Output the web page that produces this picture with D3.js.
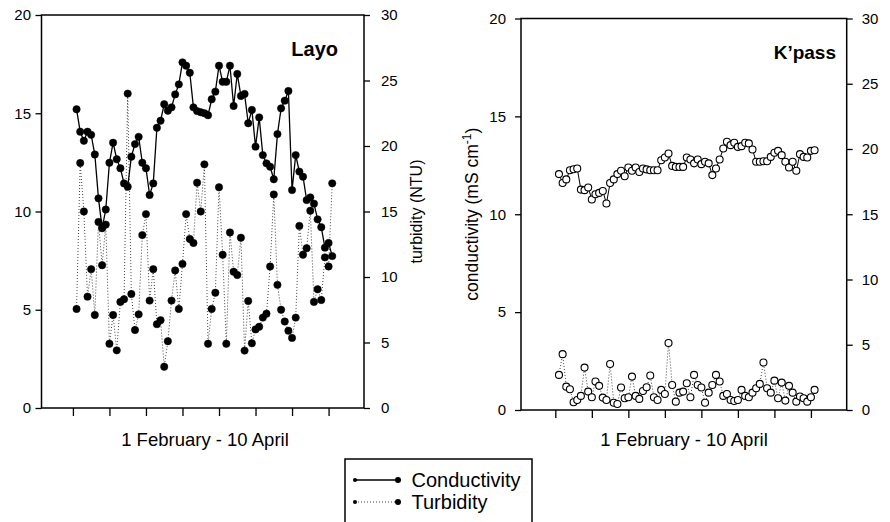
<!DOCTYPE html>
<html>
<head>
<meta charset="utf-8">
<script src="https://cdn.jsdelivr.net/npm/d3@7/dist/d3.min.js"></script>
<style>
  html, body { margin: 0; padding: 0; background: #fff; }
  svg { display: block; font-family: "Liberation Sans", Arial, Helvetica, sans-serif; }
</style>
</head>
<body>
<svg id="chart" width="890" height="522"></svg>
<script>
// ---------------- data ----------------
// day of year of each daily sample (31 Jan .. 11 Apr)
const dayOfYear = d3.range(31, 102);
const tickDays = [30, 40, 50, 60, 70, 80, 90, 100];
const condTicks = [0, 5, 10, 15, 20];
const turbTicks = [0, 5, 10, 15, 20, 25, 30];

const layoConductivity = [15.2, 14.06, 13.6, 14.06, 13.9, 12.9, 10.67, 9.15, 10.1, 12.48,
  13.5, 12.66, 12.2, 11.43, 11.26, 12.79, 13.43, 13.8, 12.48, 12.2,
  10.84, 11.43, 14.26, 14.62, 15.46, 15.13, 15.3, 15.96, 16.47, 17.59,
  17.42, 17.06, 15.3, 15.11, 15.05, 15.0, 14.9, 15.71, 16.1, 17.42,
  16.6, 16.6, 17.42, 15.37, 17.0, 15.88, 15.98, 14.49, 15.17, 13.3,
  14.79, 12.87, 12.45, 12.28, 11.64, 13.94, 15.25, 15.64, 16.13, 11.09,
  12.87, 12.03, 11.77, 10.58, 10.72, 10.4, 9.6, 9.2, 8.16, 8.4, 7.73];

const layoTurbidity = [7.56, 18.7, 15.0, 8.5, 10.6, 7.1, 14.2, 10.9, 14.0, 4.9,
  7.1, 4.4, 8.1, 8.3, 24.0, 8.7, 5.95, 7.15, 13.2, 14.8,
  8.2, 10.6, 6.4, 6.7, 3.15, 5.1, 8.2, 10.5, 7.56, 11.0,
  14.8, 12.9, 12.6, 17.2, 15.0, 18.6, 4.9, 7.56, 8.8, 16.85,
  11.7, 4.9, 13.4, 10.4, 10.15, 13.0, 4.38, 8.17, 4.94, 6.0,
  6.2, 6.9, 7.2, 10.8, 16.3, 9.4, 7.5, 6.6, 5.9, 5.35,
  6.9, 13.9, 11.7, 12.2, 15.06, 8.1, 9.06, 8.24, 11.5, 10.8, 17.15];

const kpassConductivity = [12.05, 11.6, 11.78, 12.25, 12.3, 12.34, 11.26, 11.23, 11.37, 10.75,
  11.02, 11.09, 11.19, 10.55, 11.6, 11.78, 12.05, 12.22, 11.94, 12.39,
  12.22, 12.39, 12.16, 12.34, 12.29, 12.25, 12.25, 12.25, 12.76, 12.9,
  13.1, 12.47, 12.42, 12.42, 12.42, 12.9, 12.8, 12.6, 12.8, 12.56,
  12.68, 12.6, 12.0, 12.34, 12.8, 13.36, 13.7, 13.53, 13.65, 13.44,
  13.48, 13.65, 13.62, 13.31, 12.68, 12.68, 12.71, 12.71, 12.93, 13.14,
  13.24, 13.02, 12.68, 12.39, 12.68, 12.22, 13.07, 12.93, 12.9, 13.24, 13.27];

const kpassTurbidity = [2.69, 4.28, 1.79, 1.59, 0.59, 0.77, 1.08, 3.25, 1.41, 0.98,
  2.18, 1.85, 0.95, 0.77, 3.52, 0.56, 0.46, 1.72, 0.9, 0.98,
  2.56, 1.08, 0.85, 1.46, 1.74, 2.64, 0.98, 0.77, 1.54, 1.23,
  5.13, 1.92, 0.64, 1.33, 1.41, 2.05, 0.98, 2.69, 1.92, 1.72,
  0.56, 1.33, 1.92, 2.69, 2.18, 1.08, 1.23, 0.77, 0.69, 0.77,
  1.54, 1.08, 0.98, 1.33, 1.67, 2.0, 3.64, 1.67, 1.33, 2.25,
  0.9, 2.1, 0.72, 1.85, 1.33, 0.64, 1.03, 0.9, 0.64, 0.98, 1.54];

const xLabel = "1 February - 10 April";
const legendLabels = ["Conductivity", "Turbidity"];

// ---------------- drawing ----------------
const svg = d3.select("#chart");

const panels = [
  { title: "Layo", cond: layoConductivity, turb: layoTurbidity, open: false,
    left: 41.5, right: 364, top: 15, bottom: 408, domain: [21.4, 109.7],
    leftPad: 4.5, rightPad: 11, titleX: 338, titleY: 56, titleSize: 20, xLabelX: 205,
    rightLabel: { text: "turbidity (NTU)", x: 422 }, leftLabel: null },
  { title: "K\u2019pass", cond: kpassConductivity, turb: kpassTurbidity, open: true,
    left: 521, right: 846.7, top: 18.5, bottom: 410, domain: [20.6, 109.8],
    leftPad: 9, rightPad: 9, titleX: 836, titleY: 59, titleSize: 19, xLabelX: 684,
    rightLabel: null, leftLabel: { x: 478 } }
];

panels.forEach(p => {
  const g = svg.append("g");
  const x = d3.scaleLinear().domain(p.domain).range([p.left, p.right]);
  const yC = d3.scaleLinear().domain([0, 20]).range([p.bottom, p.top]);
  const yT = d3.scaleLinear().domain([0, 30]).range([p.bottom, p.top]);

  // axes
  const axL = g.append("g").attr("transform", `translate(${p.left},0)`)
    .call(d3.axisLeft(yC).tickValues(condTicks).tickSize(6).tickSizeOuter(0).tickPadding(p.leftPad));
  const axR = g.append("g").attr("transform", `translate(${p.right},0)`)
    .call(d3.axisRight(yT).tickValues(turbTicks).tickSize(6).tickSizeOuter(0).tickPadding(p.rightPad));
  const axB = g.append("g").attr("transform", `translate(0,${p.bottom})`)
    .call(d3.axisBottom(x).tickValues(tickDays).tickFormat("").tickSize(8).tickSizeOuter(0));
  [axL, axR, axB].forEach(a => {
    a.selectAll("path.domain").remove();
    a.selectAll("line").attr("stroke", "#000").attr("stroke-width", 1.3);
    a.selectAll("text").attr("font-size", 15).attr("fill", "#000")
      .attr("font-family", "'Liberation Sans', Arial, sans-serif");
  });

  // frame
  g.append("rect")
    .attr("x", p.left).attr("y", p.top)
    .attr("width", p.right - p.left).attr("height", p.bottom - p.top)
    .attr("fill", "none").attr("stroke", "#000").attr("stroke-width", 1.5);

  const turbLine = d3.line().x((d, i) => x(dayOfYear[i])).y(d => yT(d));
  const condLine = d3.line().x((d, i) => x(dayOfYear[i])).y(d => yC(d));

  g.append("path").datum(p.turb).attr("d", turbLine)
    .attr("fill", "none").attr("stroke", "#444").attr("stroke-width", 1)
    .attr("stroke-dasharray", "1,2");
  g.append("path").datum(p.cond).attr("d", condLine)
    .attr("fill", "none").attr("stroke", "#000").attr("stroke-width", p.open ? 1 : 1.3);

  const r = p.open ? 3.5 : 3.7;
  [[p.turb, yT], [p.cond, yC]].forEach(([arr, ys]) => {
    g.append("g").selectAll("circle").data(arr).join("circle")
      .attr("cx", (d, i) => x(dayOfYear[i]))
      .attr("cy", d => ys(d))
      .attr("r", r)
      .attr("fill", p.open ? "#fff" : "#000")
      .attr("stroke", "#000")
      .attr("stroke-width", p.open ? 1.1 : 0.5);
  });

  // title
  g.append("text").attr("x", p.titleX).attr("y", p.titleY)
    .attr("text-anchor", "end").attr("font-size", p.titleSize).attr("font-weight", "bold")
    .text(p.title);

  // x label
  g.append("text").attr("x", p.xLabelX).attr("y", 446)
    .attr("text-anchor", "middle").attr("font-size", 18.5).text(xLabel);

  if (p.rightLabel) {
    g.append("text")
      .attr("transform", `translate(${p.rightLabel.x},${(p.top + p.bottom) / 2}) rotate(-90)`)
      .attr("text-anchor", "middle").attr("font-size", 16).text(p.rightLabel.text);
  }
  if (p.leftLabel) {
    const t = g.append("text")
      .attr("transform", `translate(${p.leftLabel.x},${(p.top + p.bottom) / 2}) rotate(-90)`)
      .attr("text-anchor", "middle").attr("font-size", 17.5);
    t.append("tspan").text("conductivity (mS cm");
    t.append("tspan").attr("dy", -7).attr("font-size", 12).text("-1");
    t.append("tspan").attr("dy", 7).text(")");
  }
});

// legend
const lg = svg.append("g");
lg.append("rect").attr("x", 345).attr("y", 459).attr("width", 187).attr("height", 80)
  .attr("fill", "#fff").attr("stroke", "#000").attr("stroke-width", 1.5);
legendLabels.forEach((lab, i) => {
  const yy = 480 + i * 22;
  lg.append("line").attr("x1", 355).attr("x2", 398).attr("y1", yy).attr("y2", yy)
    .attr("stroke", i === 0 ? "#000" : "#444").attr("stroke-width", i === 0 ? 1.3 : 1)
    .attr("stroke-dasharray", i === 0 ? null : "1,2");
  lg.append("circle").attr("cx", 355).attr("cy", yy).attr("r", 2).attr("fill", "#000");
  lg.append("circle").attr("cx", 398).attr("cy", yy).attr("r", 3).attr("fill", "#000");
  lg.append("text").attr("x", 411.5).attr("y", yy + 7).attr("font-size", 20).text(lab);
});
</script>
</body>
</html>
